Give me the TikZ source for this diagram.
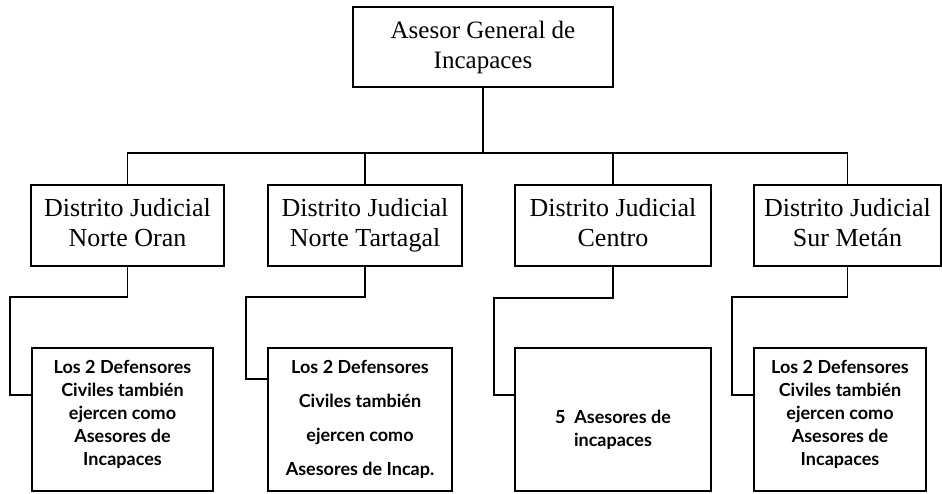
\documentclass[tikz,border=0pt]{standalone}
\usepackage{fontspec}
\setmainfont{Liberation Serif}
\newfontfamily\lowfont{Lato}
\begin{document}
\begin{tikzpicture}[x=1pt,y=-1pt,
  line width=1.5pt,
  topbox/.style={draw,line width=1.5pt,inner sep=0pt,align=center,
    font=\fontsize{25}{30}\selectfont},
  distbox/.style={topbox,minimum height=81pt,font=\fontsize{26}{30}\selectfont},
  lowbox/.style={draw,line width=1.5pt,inner sep=0pt,align=center,minimum height=143pt,
    font=\lowfont\bfseries\fontsize{18}{23}\selectfont},
  link/.style={line width=1.5pt}]
\useasboundingbox (0,0) rectangle (942,493);
% top
\node[topbox,minimum width=260pt,minimum height=80pt] (top) at (483,47) {\strut Asesor General de\\Incapaces\strut};
% districts
\node[distbox,minimum width=193pt] (b1) at (127.5,225.5) {\strut Distrito Judicial\\Norte Oran\strut};
\node[distbox,minimum width=194pt] (b2) at (365,225.5) {\strut Distrito Judicial\\Norte Tartagal\strut};
\node[distbox,minimum width=196pt] (b3) at (613,225.5) {\strut Distrito Judicial\\Centro\strut};
\node[distbox,minimum width=187pt] (b4) at (847.5,225.5) {\strut Distrito Judicial\\Sur Met\'an\strut};
% lower boxes
\node[lowbox,minimum width=181pt] (l1) at (122.5,419.5)
  {Los 2 Defensores\\Civiles tambi\'en\\ejercen como\\Asesores de\\Incapaces\\[-10pt]};
\node[lowbox,minimum width=184pt,font=\lowfont\bfseries\fontsize{18}{34}\selectfont] (l2) at (360,419.5)
  {Los 2 Defensores\\Civiles tambi\'en\\ejercen como\\Asesores de Incap.};
\node[lowbox,minimum width=196pt] (l3) at (613,419.5)
  {\\[10pt]5~ Asesores de\\incapaces};
\node[lowbox,minimum width=172pt] (l4) at (840,419.5)
  {Los 2 Defensores\\Civiles tambi\'en\\ejercen como\\Asesores de\\Incapaces\\[-10pt]};
% helper coordinates
\coordinate (bar) at (0,153);
\coordinate (k1) at (10,297);
\coordinate (k2) at (246,297);
\coordinate (k3) at (494,298);
\coordinate (k4) at (732,297);
\coordinate (e1) at (0,395);
\coordinate (e2) at (0,379);
\coordinate (e3) at (0,395);
\coordinate (e4) at (0,395);
% connectors
\draw[link] (top.south) -- (top.south |- bar);
\draw[link] (b1.north) |- (b4.north |- bar) -- (b4.north);
\draw[link] (b2.north) -- (b2.north |- bar);
\draw[link] (b3.north) -- (b3.north |- bar);
\draw[link] (b1.south) |- (k1) |- (l1.west |- e1);
\draw[link] (b2.south) |- (k2) |- (l2.west |- e2);
\draw[link] (b3.south) |- (k3) |- (l3.west |- e3);
\draw[link] (b4.south) |- (k4) |- (l4.west |- e4);
\end{tikzpicture}
\end{document}
